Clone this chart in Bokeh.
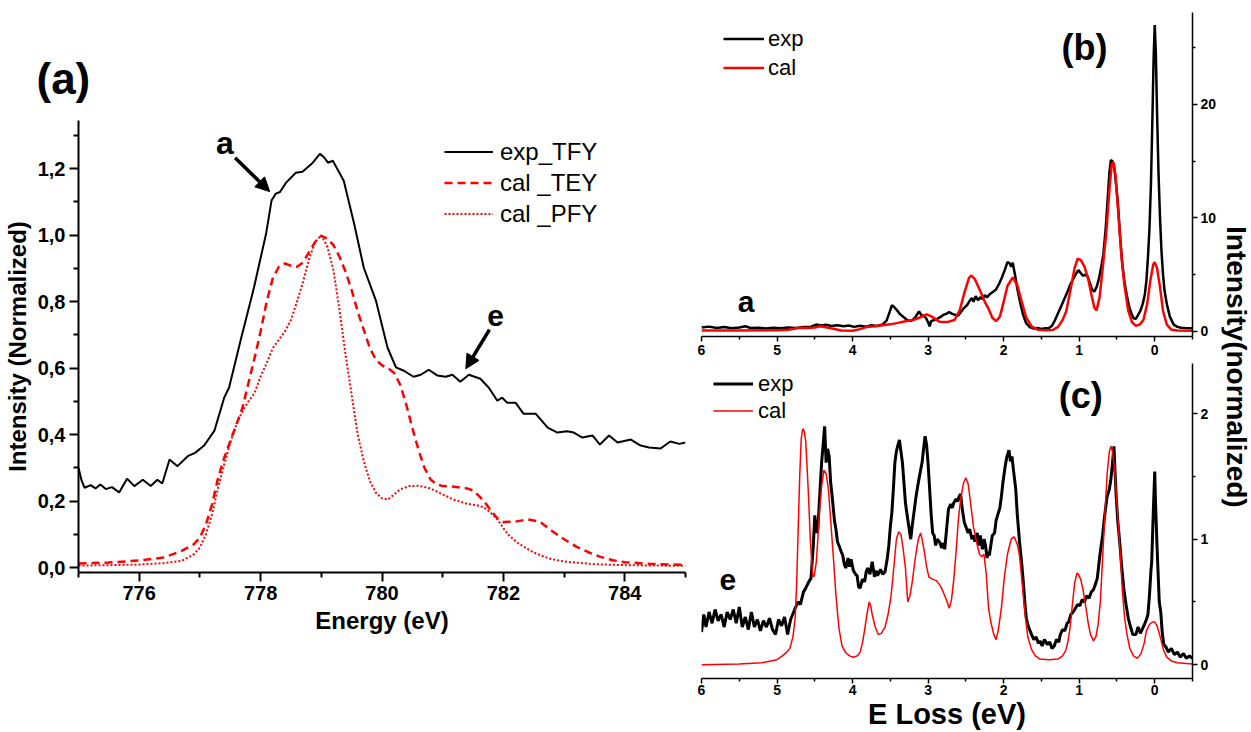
from bokeh.plotting import figure
from bokeh.layouts import row, column
from bokeh.models import (Range1d, FixedTicker, CustomJSTickFormatter, Label, Arrow,
                          NormalHead, Legend, LegendItem)
from bokeh.embed import file_html
from bokeh.resources import INLINE

FONT = "Liberation Sans"

# ---------------- panel (a) data ----------------
exp_energy = [775.00, 775.05, 775.10, 775.20, 775.28, 775.36, 775.45, 775.55, 775.67, 775.80,
              775.92, 776.06, 776.19, 776.30, 776.38, 776.50, 776.63, 776.80, 776.92, 777.07,
              777.24, 777.40, 777.48, 777.67, 777.89, 778.09, 778.18, 778.25, 778.32, 778.42,
              778.58, 778.69, 778.86, 778.98, 779.05, 779.11, 779.19, 779.37, 779.54, 779.70,
              779.90, 780.09, 780.23, 780.36, 780.52, 780.64, 780.77, 780.91, 781.05, 781.16,
              781.29, 781.43, 781.62, 781.76, 781.90, 781.98, 782.06, 782.20, 782.33, 782.53,
              782.73, 782.89, 783.05, 783.16, 783.30, 783.47, 783.59, 783.74, 783.88, 784.10,
              784.26, 784.40, 784.59, 784.75, 784.90, 785.00]
exp_tfy = [0.300, 0.262, 0.240, 0.248, 0.238, 0.250, 0.236, 0.242, 0.226, 0.267,
           0.245, 0.264, 0.245, 0.264, 0.253, 0.325, 0.305, 0.335, 0.345, 0.367,
           0.412, 0.511, 0.541, 0.683, 0.842, 1.004, 1.104, 1.125, 1.130, 1.158,
           1.188, 1.191, 1.218, 1.245, 1.233, 1.218, 1.224, 1.164, 1.035, 0.902,
           0.803, 0.662, 0.602, 0.592, 0.574, 0.580, 0.595, 0.578, 0.574, 0.580,
           0.559, 0.580, 0.568, 0.541, 0.502, 0.511, 0.496, 0.496, 0.463, 0.463,
           0.421, 0.406, 0.410, 0.406, 0.391, 0.397, 0.370, 0.397, 0.376, 0.385,
           0.367, 0.361, 0.358, 0.379, 0.372, 0.376]

tey_energy = [775.0, 775.5, 776.0, 776.4, 776.7, 776.9, 777.0, 777.1, 777.2, 777.3,
              777.4, 777.5, 777.6, 777.7, 777.8, 777.9, 778.0, 778.1, 778.2, 778.3,
              778.4, 778.5, 778.6, 778.7, 778.8, 778.9, 779.0, 779.1, 779.2, 779.3,
              779.4, 779.5, 779.6, 779.7, 779.8, 779.9, 780.0, 780.1, 780.2, 780.3,
              780.4, 780.5, 780.6, 780.7, 780.8, 780.9, 781.0, 781.2, 781.4, 781.5,
              781.6, 781.7, 781.8, 781.9, 782.0, 782.2, 782.4, 782.6, 782.8, 783.0,
              783.2, 783.4, 783.6, 783.8, 784.0, 784.4, 785.0]
cal_tey = [0.012, 0.015, 0.021, 0.030, 0.050, 0.070, 0.090, 0.130, 0.190, 0.270,
           0.330, 0.380, 0.430, 0.480, 0.555, 0.630, 0.710, 0.800, 0.870, 0.905,
           0.915, 0.908, 0.905, 0.918, 0.950, 0.980, 0.998, 0.990, 0.970, 0.935,
           0.890, 0.835, 0.770, 0.715, 0.660, 0.625, 0.608, 0.600, 0.585, 0.550,
           0.490, 0.420, 0.355, 0.300, 0.265, 0.250, 0.245, 0.243, 0.238, 0.232,
           0.215, 0.195, 0.170, 0.148, 0.137, 0.138, 0.145, 0.138, 0.110, 0.085,
           0.063, 0.046, 0.032, 0.022, 0.016, 0.011, 0.008]

pfy_energy = [775.0, 775.5, 776.0, 776.4, 776.7, 776.9, 777.0, 777.1, 777.2, 777.3,
              777.4, 777.5, 777.6, 777.7, 777.8, 777.9, 778.0, 778.1, 778.2, 778.3,
              778.4, 778.5, 778.6, 778.7, 778.8, 778.9, 779.0, 779.1, 779.2, 779.3,
              779.4, 779.5, 779.6, 779.7, 779.8, 779.9, 780.0, 780.1, 780.2, 780.3,
              780.45, 780.6, 780.8, 781.0, 781.2, 781.4, 781.6, 781.7, 781.8, 781.9,
              782.0, 782.1, 782.25, 782.5, 782.75, 783.0, 783.5, 784.0, 785.0]
cal_pfy = [0.006, 0.007, 0.009, 0.013, 0.020, 0.040, 0.060, 0.100, 0.160, 0.240,
           0.310, 0.375, 0.430, 0.470, 0.500, 0.525, 0.575, 0.615, 0.660, 0.685,
           0.710, 0.745, 0.800, 0.860, 0.930, 0.980, 1.000, 0.965, 0.895, 0.775,
           0.640, 0.520, 0.400, 0.320, 0.260, 0.225, 0.208, 0.205, 0.220, 0.235,
           0.245, 0.246, 0.238, 0.220, 0.203, 0.192, 0.186, 0.178, 0.163, 0.145,
           0.118, 0.095, 0.072, 0.045, 0.027, 0.018, 0.010, 0.007, 0.005]

a_yticks = [0.0, 0.2, 0.4, 0.6, 0.8, 1.0, 1.2]
a_yminor = [0.1, 0.3, 0.5, 0.7, 0.9, 1.1, 1.3]
a_xticks = [776, 778, 780, 782, 784]
a_xminor = [775, 777, 779, 781, 783, 785]

# ---------------- panel (b) data ----------------
b_exp_loss = [6.00, 5.90, 5.80, 5.70, 5.60, 5.50, 5.42, 5.35, 5.25, 5.15, 5.05, 4.95, 4.85, 4.75,
              4.65, 4.55, 4.48, 4.42, 4.35, 4.28, 4.20, 4.12, 4.05, 3.98, 3.90, 3.82, 3.75, 3.68,
              3.60, 3.55, 3.51, 3.48, 3.45, 3.41, 3.37, 3.33, 3.28, 3.23, 3.18, 3.14, 3.12, 3.09,
              3.06, 3.03, 3.00, 2.98, 2.96, 2.92, 2.88, 2.84, 2.80, 2.76, 2.72, 2.68, 2.64, 2.60,
              2.56, 2.52, 2.48, 2.45, 2.42, 2.40, 2.37, 2.34, 2.31, 2.28, 2.25, 2.22, 2.18, 2.14,
              2.10, 2.06, 2.02, 1.98, 1.95, 1.92, 1.90, 1.88, 1.85, 1.82, 1.78, 1.74, 1.70, 1.65,
              1.60, 1.55, 1.50, 1.45, 1.40, 1.36, 1.32, 1.28, 1.24, 1.20, 1.16, 1.12, 1.08, 1.04,
              1.01, 0.98, 0.95, 0.92, 0.89, 0.86, 0.83, 0.80, 0.77, 0.74, 0.71, 0.68, 0.65, 0.62,
              0.60, 0.58, 0.56, 0.54, 0.52, 0.49, 0.46, 0.43, 0.40, 0.37, 0.34, 0.31, 0.28, 0.25,
              0.22, 0.19, 0.16, 0.13, 0.11, 0.09, 0.07, 0.05, 0.03, 0.015, 0.00, -0.015, -0.03,
              -0.05, -0.07, -0.09, -0.11, -0.13, -0.16, -0.20, -0.25, -0.30, -0.35, -0.40, -0.50]
b_exp = [0.35, 0.42, 0.30, 0.38, 0.28, 0.35, 0.45, 0.30, 0.33, 0.26, 0.32, 0.28, 0.35, 0.30,
         0.38, 0.42, 0.60, 0.52, 0.58, 0.48, 0.55, 0.45, 0.52, 0.40, 0.50, 0.42, 0.55, 0.48,
         0.62, 0.95, 1.70, 2.30, 2.15, 1.85, 1.50, 1.30, 1.00, 0.92, 1.15, 1.55, 1.75, 1.45,
         1.35, 1.20, 0.80, 0.45, 0.90, 1.00, 1.10, 1.25, 1.45, 1.55, 1.70, 1.55, 1.45, 1.40,
         1.75, 2.10, 2.35, 2.70, 2.95, 2.60, 3.10, 2.75, 3.00, 2.85, 3.20, 3.00, 3.30, 3.50,
         3.70, 4.20, 4.80, 5.50, 6.10, 6.00, 5.70, 6.05, 5.00, 3.80, 2.50, 1.40, 0.70, 0.35,
         0.25, 0.30, 0.22, 0.28, 0.30, 0.50, 1.00, 1.60, 2.20, 2.80, 3.40, 4.10, 4.60, 5.10,
         5.40, 5.15, 4.90, 5.00, 4.85, 4.30, 3.70, 3.50, 3.90, 4.60, 5.60, 6.80, 9.00, 12.0,
         14.0, 15.1, 15.0, 14.7, 13.5, 11.5, 8.5, 6.0, 4.3, 3.2, 2.2, 1.6, 1.15, 1.10,
         1.45, 1.80, 2.40, 3.30, 4.50, 6.50, 9.0, 13.0, 19.0, 24.0, 27.0, 24.5, 19.5,
         14.0, 10.0, 7.0, 5.0, 3.6, 2.4, 1.30, 0.60, 0.40, 0.32, 0.30, 0.28]

b_cal_loss = [6.0, 5.5, 5.0, 4.85, 4.7, 4.6, 4.5, 4.43, 4.3, 4.15, 4.0, 3.9, 3.82, 3.7, 3.6,
              3.5, 3.4, 3.3, 3.2, 3.1, 3.02, 2.95, 2.85, 2.75, 2.65, 2.58, 2.52, 2.46, 2.43,
              2.38, 2.3, 2.25, 2.2, 2.15, 2.1, 2.05, 2.0, 1.95, 1.88, 1.82, 1.76, 1.7, 1.63,
              1.55, 1.45, 1.35, 1.28, 1.22, 1.17, 1.12, 1.06, 1.02, 0.98, 0.93, 0.88, 0.84,
              0.8, 0.77, 0.73, 0.69, 0.64, 0.6, 0.57, 0.55, 0.52, 0.48, 0.44, 0.4, 0.35, 0.3,
              0.25, 0.2, 0.15, 0.1, 0.06, 0.02, 0.0, -0.03, -0.07, -0.11, -0.16, -0.22, -0.3, -0.5]
b_cal = [0.08, 0.08, 0.10, 0.15, 0.32, 0.30, 0.35, 0.45, 0.30, 0.08, 0.05, 0.20, 0.38, 0.45, 0.55,
         0.62, 0.75, 0.90, 1.00, 1.25, 1.50, 1.30, 0.85, 0.82, 1.00, 1.90, 3.40, 4.70, 4.93,
         4.60, 3.40, 2.60, 2.00, 1.20, 0.90, 1.30, 2.60, 4.00, 4.75, 4.10, 2.60, 1.20, 0.45,
         0.15, 0.10, 0.12, 0.40, 1.00, 1.80, 3.50, 5.60, 6.40, 6.30, 5.70, 4.60, 3.30,
         2.10, 1.85, 3.00, 5.50, 8.80, 12.5, 14.7, 14.9, 13.8, 10.2, 6.6, 4.0, 1.8, 0.8,
         0.5, 0.6, 1.0, 2.4, 4.4, 5.9, 6.1, 5.6, 3.9, 1.8, 0.6, 0.15, 0.08, 0.05]

b_yticks = [0, 10, 20]
b_yminor = [5, 15, 25]
loss_ticks = [6, 5, 4, 3, 2, 1, 0]
loss_minor = [5.5, 4.5, 3.5, 2.5, 1.5, 0.5, -0.5]

# ---------------- panel (c) data ----------------
c_exp_loss = [6.00, 5.97, 5.94, 5.90, 5.86, 5.82, 5.78, 5.74, 5.70, 5.66, 5.62, 5.58, 5.54, 5.50,
              5.46, 5.42, 5.38, 5.34, 5.30, 5.26, 5.22, 5.18, 5.14, 5.10, 5.06, 5.02, 4.98, 4.94,
              4.90, 4.86, 4.82, 4.78, 4.76, 4.72, 4.69, 4.65, 4.62, 4.58, 4.55, 4.52, 4.50, 4.48,
              4.46, 4.43, 4.41, 4.39, 4.37, 4.35, 4.33, 4.31, 4.29, 4.27, 4.24, 4.22, 4.20, 4.18,
              4.15, 4.13, 4.11, 4.09, 4.06, 4.04, 4.02, 3.99, 3.96, 3.94, 3.92, 3.90, 3.87, 3.84,
              3.82, 3.80, 3.77, 3.74, 3.71, 3.69, 3.67, 3.63, 3.60, 3.57, 3.54, 3.52, 3.50, 3.48,
              3.46, 3.44, 3.42, 3.40, 3.38, 3.36, 3.34, 3.32, 3.30, 3.28, 3.25, 3.23, 3.21, 3.19,
              3.16, 3.13, 3.10, 3.08, 3.06, 3.04, 3.02, 3.00, 2.98, 2.96, 2.94, 2.92, 2.90, 2.88,
              2.85, 2.82, 2.80, 2.78, 2.76, 2.74, 2.73, 2.70, 2.68, 2.66, 2.63, 2.61, 2.59, 2.57,
              2.55, 2.52, 2.50, 2.47, 2.45, 2.42, 2.40, 2.38, 2.35, 2.33, 2.31, 2.28, 2.26, 2.24,
              2.22, 2.20, 2.19, 2.17, 2.15, 2.12, 2.10, 2.08, 2.05, 2.03, 2.01, 1.98, 1.96, 1.93,
              1.91, 1.89, 1.87, 1.84, 1.82, 1.79, 1.76, 1.74, 1.72, 1.70, 1.67, 1.63, 1.60, 1.57,
              1.54, 1.52, 1.49, 1.46, 1.42, 1.39, 1.36, 1.33, 1.30, 1.27, 1.25, 1.22, 1.19, 1.16,
              1.14, 1.11, 1.08, 1.05, 1.02, 0.99, 0.96, 0.93, 0.90, 0.87, 0.84, 0.81, 0.78, 0.76,
              0.74, 0.72, 0.69, 0.67, 0.65, 0.63, 0.60, 0.58, 0.56, 0.54, 0.53, 0.51, 0.49, 0.46,
              0.44, 0.41, 0.38, 0.35, 0.32, 0.29, 0.25, 0.22, 0.19, 0.16, 0.13, 0.11, 0.09, 0.07,
              0.05, 0.04, 0.02, 0.00, -0.01, -0.03, -0.05, -0.06, -0.08, -0.10, -0.12, -0.15,
              -0.18, -0.22, -0.26, -0.30, -0.34, -0.38, -0.42, -0.46, -0.50]
c_exp = [0.26, 0.40, 0.30, 0.42, 0.33, 0.44, 0.35, 0.40, 0.30, 0.42, 0.36, 0.44, 0.33, 0.46,
         0.30, 0.38, 0.28, 0.42, 0.30, 0.36, 0.27, 0.35, 0.30, 0.37, 0.28, 0.24, 0.36, 0.31,
         0.38, 0.24, 0.36, 0.42, 0.45, 0.50, 0.48, 0.58, 0.61, 0.66, 0.69, 0.95, 1.19, 1.05,
         1.08, 1.40, 1.61, 1.75, 1.90, 1.61, 1.72, 1.66, 1.45, 1.34, 1.15, 1.08, 0.98, 0.95,
         0.90, 0.87, 0.80, 0.77, 0.85, 0.78, 0.84, 0.75, 0.72, 0.71, 0.62, 0.61, 0.68, 0.66,
         0.74, 0.77, 0.72, 0.82, 0.70, 0.75, 0.71, 0.76, 0.72, 0.74, 0.85, 0.95, 1.10, 1.21,
         1.40, 1.61, 1.70, 1.75, 1.79, 1.70, 1.61, 1.45, 1.29, 1.20, 1.08, 1.00, 1.11, 1.20,
         1.34, 1.45, 1.55, 1.61, 1.72, 1.82, 1.75, 1.60, 1.40, 1.20, 1.05, 1.03, 0.95, 1.00,
         0.98, 0.93, 0.97, 0.92, 1.05, 1.18, 1.24, 1.28, 1.25, 1.29, 1.32, 1.30, 1.34, 1.36,
         1.25, 1.13, 1.10, 1.05, 1.08, 1.00, 1.03, 0.98, 1.05, 0.95, 1.03, 0.92, 1.00, 0.95,
         0.85, 0.90, 0.87, 0.95, 1.03, 1.05, 1.15, 1.19, 1.25, 1.34, 1.45, 1.58, 1.65, 1.71,
         1.62, 1.66, 1.55, 1.40, 1.20, 0.98, 0.80, 0.66, 0.50, 0.37, 0.30, 0.24, 0.20, 0.22,
         0.17, 0.19, 0.15, 0.20, 0.16, 0.18, 0.13, 0.15, 0.20, 0.18, 0.24, 0.28, 0.27, 0.33,
         0.34, 0.40, 0.42, 0.45, 0.48, 0.47, 0.52, 0.50, 0.55, 0.53, 0.58, 0.60, 0.65, 0.69,
         0.80, 0.90, 1.03, 1.15, 1.25, 1.34, 1.40, 1.48, 1.60, 1.74, 1.60, 1.34, 1.15, 0.95,
         0.80, 0.61, 0.48, 0.37, 0.30, 0.24, 0.24, 0.30, 0.25, 0.29, 0.33, 0.36, 0.40, 0.55,
         0.75, 0.82, 1.20, 1.54, 1.30, 0.95, 0.65, 0.50, 0.42, 0.25, 0.16, 0.14,
         0.10, 0.13, 0.08, 0.10, 0.06, 0.09, 0.05, 0.07, 0.05]

c_cal_loss = [6.0, 5.5, 5.2, 5.0, 4.93, 4.87, 4.83, 4.79, 4.76, 4.74, 4.72, 4.70, 4.68, 4.66,
              4.64, 4.62, 4.60, 4.58, 4.56, 4.53, 4.51, 4.48, 4.46, 4.44, 4.41, 4.38, 4.35, 4.32,
              4.29, 4.25, 4.22, 4.18, 4.14, 4.09, 4.04, 3.99, 3.94, 3.90, 3.87, 3.84, 3.81, 3.78,
              3.76, 3.74, 3.70, 3.66, 3.62, 3.57, 3.53, 3.49, 3.45, 3.42, 3.39, 3.36, 3.33, 3.30,
              3.27, 3.24, 3.21, 3.17, 3.13, 3.10, 3.08, 3.05, 3.02, 2.99, 2.94, 2.89, 2.84, 2.80,
              2.76, 2.72, 2.69, 2.66, 2.63, 2.60, 2.57, 2.53, 2.50, 2.47, 2.44, 2.40, 2.36, 2.32,
              2.29, 2.26, 2.23, 2.20, 2.17, 2.13, 2.10, 2.07, 2.03, 1.99, 1.95, 1.90, 1.86, 1.82,
              1.79, 1.76, 1.72, 1.68, 1.63, 1.58, 1.52, 1.40, 1.28, 1.22, 1.18, 1.15, 1.12, 1.09,
              1.06, 1.03, 1.01, 0.98, 0.95, 0.91, 0.88, 0.85, 0.81, 0.78, 0.75, 0.72, 0.69, 0.66,
              0.63, 0.60, 0.58, 0.56, 0.53, 0.50, 0.46, 0.43, 0.40, 0.37, 0.33, 0.28, 0.23, 0.18,
              0.14, 0.11, 0.07, 0.03, 0.00, -0.03, -0.06, -0.09, -0.12, -0.16, -0.22, -0.30, -0.50]
c_cal = [0.0, 0.005, 0.015, 0.04, 0.07, 0.10, 0.13, 0.22, 0.37, 0.65, 1.08, 1.50, 1.80, 1.88,
         1.86, 1.78, 1.55, 1.30, 1.00, 0.72, 0.70, 0.82, 1.00, 1.21, 1.42, 1.55, 1.52, 1.40,
         1.15, 0.82, 0.55, 0.29, 0.15, 0.095, 0.07, 0.06, 0.07, 0.10, 0.17, 0.28, 0.40, 0.50,
         0.47, 0.40, 0.30, 0.24, 0.25, 0.30, 0.40, 0.55, 0.80, 1.00, 1.06, 1.04, 0.92, 0.77,
         0.50, 0.55, 0.66, 0.85, 1.00, 1.05, 1.00, 0.90, 0.78, 0.70, 0.68, 0.67, 0.63, 0.58,
         0.52, 0.45, 0.52, 0.68, 0.90, 1.15, 1.32, 1.45, 1.49, 1.44, 1.30, 1.10, 0.98, 0.88,
         0.86, 0.88, 0.72, 0.45, 0.34, 0.24, 0.20, 0.28, 0.45, 0.70, 0.88, 1.00, 1.02, 0.96,
         0.87, 0.68, 0.42, 0.22, 0.12, 0.07, 0.045, 0.04, 0.045, 0.07, 0.11, 0.18, 0.30, 0.48,
         0.65, 0.73, 0.72, 0.68, 0.60, 0.45, 0.33, 0.24, 0.19, 0.22, 0.32, 0.50, 0.85, 1.20,
         1.52, 1.70, 1.74, 1.70, 1.55, 1.28, 0.92, 0.60, 0.38, 0.25, 0.13, 0.07, 0.05, 0.09,
         0.17, 0.27, 0.32, 0.34, 0.34, 0.31, 0.25, 0.18, 0.11, 0.06, 0.03, 0.015, 0.005]

c_yticks = [0, 1, 2]
c_yminor = [0.5, 1.5]


def style_axis(ax, ticks, minor, label_px, width, major_len, minor_len, standoff):
    ax.ticker = FixedTicker(ticks=ticks, minor_ticks=minor)
    ax.axis_line_width = width
    ax.major_tick_line_width = width
    ax.minor_tick_line_width = width
    ax.axis_line_color = "black"
    ax.major_tick_line_color = "black"
    ax.minor_tick_line_color = "black"
    ax.major_tick_in = 0
    ax.major_tick_out = major_len
    ax.minor_tick_in = 0
    ax.minor_tick_out = minor_len
    ax.major_label_text_font = FONT
    ax.major_label_text_font_style = "bold"
    ax.major_label_text_font_size = label_px
    ax.major_label_text_color = "black"
    ax.major_label_standoff = standoff
    ax.axis_label_text_font = FONT
    ax.axis_label_text_font_style = "bold"
    ax.axis_label_text_color = "black"


def clean(p):
    p.xgrid.visible = False
    p.ygrid.visible = False
    p.outline_line_color = None
    p.background_fill_color = "white"
    p.border_fill_color = "white"


def txt(p, x, y, s, size, bold=True):
    p.add_layout(Label(x=x, y=y, text=s, text_font=FONT, text_font_size=size,
                       text_font_style="bold" if bold else "normal", text_color="black",
                       text_align="center", text_baseline="middle"))


def legend(items, loc, gw, gh, standoff, size):
    return Legend(items=items, location=loc, glyph_width=gw, glyph_height=gh, label_height=gh,
                  label_standoff=standoff, spacing=0, padding=0, margin=0,
                  border_line_color=None, background_fill_alpha=0,
                  label_text_font=FONT, label_text_font_size=size, label_text_color="black")


# ---------------- figure (a) ----------------
pa = figure(width=690, height=732, x_range=Range1d(775, 785), y_range=Range1d(-0.015, 1.345),
            output_backend="svg", toolbar_location=None,
            min_border_left=77, min_border_right=5, min_border_top=120, min_border_bottom=160)
clean(pa)
pa.title.text = "(a)"
pa.title.text_font = FONT
pa.title.text_font_size = "44px"
pa.title.text_font_style = "bold"
pa.title.text_color = "black"
pa.title.align = "left"
pa.title.offset = -42
pa.title.standoff = 36

r_exp = pa.line(exp_energy, exp_tfy, line_color="black", line_width=2)
r_tey = pa.line(tey_energy, cal_tey, line_color="red", line_width=2.5, line_dash="8 5")
r_pfy = pa.line(pfy_energy, cal_pfy, line_color="red", line_width=2, line_dash="2 2")

style_axis(pa.xaxis[0], a_xticks, a_xminor, "20px", 2, 9, 5, 4)
style_axis(pa.yaxis[0], a_yticks, a_yminor, "20px", 2, 9, 5, 4)
pa.yaxis[0].formatter = CustomJSTickFormatter(code="return tick.toFixed(1).replace('.', ',');")
pa.xaxis[0].axis_label = "Energy (eV)"
pa.yaxis[0].axis_label = "Intensity (Normalized)"
pa.xaxis[0].axis_label_text_font_size = "24px"
pa.yaxis[0].axis_label_text_font_size = "24px"
pa.xaxis[0].axis_label_standoff = 4
pa.yaxis[0].axis_label_standoff = 4

pa.add_layout(legend([LegendItem(label="exp_TFY", renderers=[r_exp]),
                      LegendItem(label="cal _TEY", renderers=[r_tey]),
                      LegendItem(label="cal _PFY", renderers=[r_pfy])],
                     (366, 343), 49, 31, 7, "24px"))

txt(pa, 777.41, 1.278, "a", "32px")
txt(pa, 781.87, 0.758, "e", "30px")
pa.add_layout(Arrow(end=NormalHead(size=14, fill_color="black", line_color="black"),
                    x_start=777.58, y_start=1.233, x_end=778.15, y_end=1.131,
                    line_width=3.5, line_color="black"))
pa.add_layout(Arrow(end=NormalHead(size=14, fill_color="black", line_color="black"),
                    x_start=781.77, y_start=0.716, x_end=781.38, y_end=0.598,
                    line_width=3.5, line_color="black"))

# ---------------- figure (b) ----------------
pb = figure(width=531, height=360, x_range=Range1d(6, -0.5), y_range=Range1d(-0.45, 28.1),
            y_axis_location="right", output_backend="svg", toolbar_location=None,
            min_border_left=7, min_border_right=29, min_border_top=12, min_border_bottom=24)
clean(pb)
rb_exp = pb.line(b_exp_loss, b_exp, line_color="black", line_width=2.5)
rb_cal = pb.line(b_cal_loss, b_cal, line_color="red", line_width=2.5)
style_axis(pb.xaxis[0], loss_ticks, loss_minor, "14px", 1.5, 5, 3, 3)
style_axis(pb.yaxis[0], b_yticks, b_yminor, "14px", 1.5, 5, 3, 3)
pb.add_layout(legend([LegendItem(label="exp", renderers=[rb_exp]),
                      LegendItem(label="cal", renderers=[rb_cal])],
                     (22, 254), 41, 29, 4, "22px"))
txt(pb, 0.93, 25.0, "(b)", "36px")
txt(pb, 5.41, 2.64, "a", "30px")

# ---------------- figure (c) ----------------
pc = figure(width=531, height=372, x_range=Range1d(6, -0.5), y_range=Range1d(-0.11, 2.40),
            y_axis_location="right", output_backend="svg", toolbar_location=None,
            min_border_left=11, min_border_right=23, min_border_top=3, min_border_bottom=51)
clean(pc)
rc_exp = pc.line(c_exp_loss, c_exp, line_color="black", line_width=3)
rc_cal = pc.line(c_cal_loss, c_cal, line_color="red", line_width=1.5)
style_axis(pc.xaxis[0], loss_ticks, loss_minor, "14px", 1.5, 5, 3, 1)
style_axis(pc.yaxis[0], c_yticks, c_yminor, "14px", 1.5, 5, 3, 3)
pc.xaxis[0].axis_label = "E Loss (eV)"
pc.xaxis[0].axis_label_text_font_size = "29px"
pc.xaxis[0].axis_label_standoff = 0
pc.add_layout(legend([LegendItem(label="exp", renderers=[rc_exp]),
                      LegendItem(label="cal", renderers=[rc_cal])],
                     (12, 254), 40, 27, 5, "22px"))
txt(pc, 0.98, 2.147, "(c)", "36px")
txt(pc, 5.65, 0.671, "e", "30px")

# ---------------- shared right label ----------------
pl = figure(width=30, height=732, x_range=Range1d(0, 1), y_range=Range1d(0, 1),
            x_axis_location=None, y_axis_location=None, output_backend="svg",
            toolbar_location=None, min_border=0)
clean(pl)
pl.add_layout(Label(x=0.5, y=0.455, text="Intensity(normalized)", angle=-90, angle_units="deg",
                    text_font=FONT, text_font_size="28px", text_font_style="bold",
                    text_color="black", text_align="center", text_baseline="middle"))

layout = row(pa, column(pb, pc), pl)
open("out.html", "w").write(file_html(layout, INLINE))
